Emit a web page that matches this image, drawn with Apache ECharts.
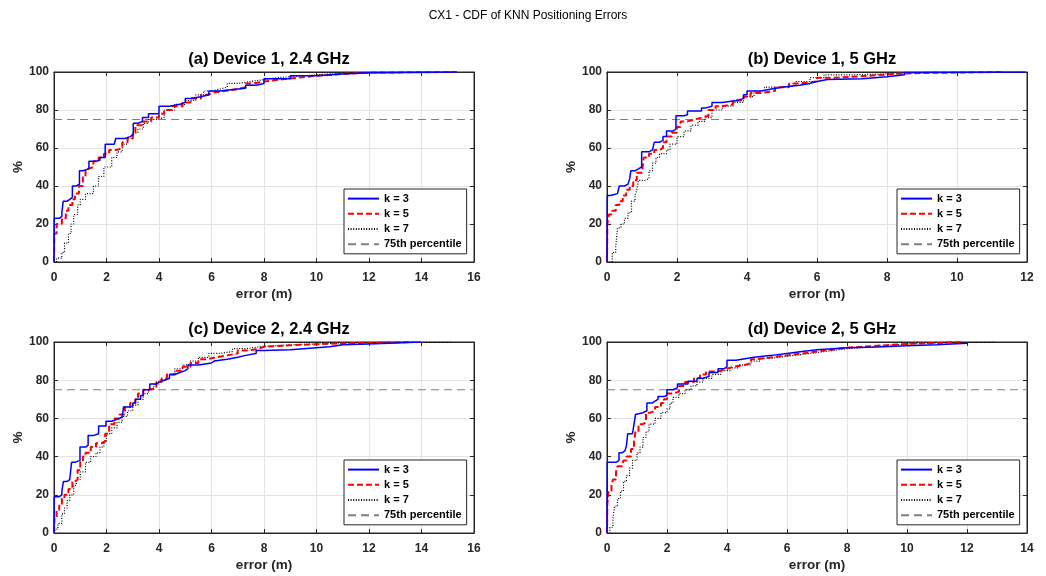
<!DOCTYPE html>
<html>
<head>
<meta charset="utf-8">
<script src="https://cdn.jsdelivr.net/npm/echarts@6/dist/echarts.min.js"></script>
<style>
html,body{margin:0;padding:0;background:#fff;}
#chart{width:1046px;height:576px;}
</style>
</head>
<body>
<div id="chart"></div>
<script>
// ---- DATA: [error (m), cumulative %] ----
var mainTitle = 'CX1 - CDF of KNN Positioning Errors';
var panelTitles = ['(a) Device 1, 2.4 GHz', '(b) Device 1, 5 GHz', '(c) Device 2, 2.4 GHz', '(d) Device 2, 5 GHz'];
var xMaxes = [16, 12, 16, 14];
var yTicks = [0, 20, 40, 60, 80, 100];
var seriesNames = ['k = 3', 'k = 5', 'k = 7', '75th percentile'];
var percentile = 75;

var a_k3 = [[0,0],[0.01,23],[0.2,24],[0.3,26],[0.35,32],[0.5,33],[0.6,34],[0.7,40],[0.85,41],[0.97,48],[1.1,49],[1.33,53],[1.6,53.5],[1.75,55],[1.95,62],[2.3,63],[2.35,65],[2.7,66],[2.9,67],[3.02,73],[3.2,74],[3.37,76],[3.6,78],[4.0,82],[4.4,83],[4.8,84],[5.0,86],[5.2,87],[5.6,88],[5.9,90],[6.3,91],[7.0,91.5],[7.3,93],[7.7,94],[8.0,96.5],[9.0,98],[10.0,99],[11.0,99.6],[12.0,100],[15.35,100]];
var a_k5 = [[0,0],[0.01,15],[0.1,20],[0.3,23],[0.45,27],[0.55,30],[0.7,33],[0.8,36],[0.95,40],[1.1,45],[1.2,49],[1.3,50],[1.5,53],[1.7,55],[1.9,57],[2.1,59],[2.4,60],[2.6,63],[2.8,65],[3.0,68],[3.1,72],[3.4,74],[3.7,76],[4.0,78],[4.2,80],[4.5,82],[4.9,84],[5.2,86],[5.6,88],[5.9,89],[6.0,90],[6.5,91],[7.0,92],[7.3,94],[7.6,95],[8.0,96],[8.6,97],[9.3,98],[10.0,99],[11.0,99.7],[12.0,100],[15.35,100]];
var a_k7 = [[0,0],[0.1,2],[0.3,5],[0.4,10],[0.55,15],[0.65,20],[0.75,25],[0.9,30],[1.0,33],[1.2,36],[1.5,40],[1.7,45],[1.9,50],[2.2,55],[2.4,58],[2.6,62],[2.8,65],[3.0,68],[3.2,70],[3.4,73],[3.6,75],[3.9,76],[4.2,80],[4.6,83],[5.0,85],[5.4,88],[5.7,90],[6.0,91],[6.3,92],[6.6,94],[7.0,95],[7.5,96],[8.0,97],[8.5,98],[9.5,99],[10.5,99.5],[11.5,100],[15.3,100]];

var b_k3 = [[0,0],[0.01,35],[0.1,36],[0.3,37],[0.35,40],[0.5,41],[0.6,42],[0.65,44],[0.68,48],[0.8,49],[0.9,50],[0.99,58],[1.2,59],[1.3,60],[1.35,63],[1.5,64],[1.6,66],[1.7,69],[1.9,70],[1.97,77],[2.2,77.5],[2.3,79.5],[2.7,81],[2.8,82],[3.0,84],[3.3,84.5],[3.5,85],[3.7,86],[3.9,88],[4.0,90],[4.4,91],[4.7,92],[5.0,93],[5.5,94],[5.8,95],[6.0,96],[6.3,96.5],[7.3,97.5],[8.0,98.5],[8.5,99.7],[9.0,100],[11.95,100]];
var b_k5 = [[0,0],[0.01,20],[0.05,25],[0.15,27],[0.25,30],[0.35,32],[0.45,35],[0.55,38],[0.65,40],[0.75,43],[0.85,47],[1.0,48],[1.05,55],[1.2,57],[1.35,59],[1.5,60],[1.6,63],[1.7,66],[1.85,68],[2.0,71],[2.1,74],[2.3,75],[2.5,76],[2.7,77],[2.9,80],[3.1,82],[3.3,83],[3.6,85],[3.9,87],[4.1,89],[4.4,90],[4.8,92],[5.2,94],[5.5,95],[6.0,97],[6.5,98],[7.5,99],[8.2,99.5],[9.0,100],[11.3,100]];
var b_k7 = [[0,0],[0.15,5],[0.25,8],[0.3,18],[0.4,20],[0.5,23],[0.6,26],[0.7,32],[0.8,35],[0.85,38],[0.9,43],[1.1,44],[1.2,48],[1.3,52],[1.4,55],[1.5,57],[1.7,59],[1.8,62],[2.0,66],[2.2,69],[2.4,72],[2.6,74],[2.8,76],[3.0,80],[3.3,82],[3.6,84],[3.9,87],[4.2,90],[4.5,92],[5.0,93],[5.4,95],[5.8,97],[6.2,98.5],[7.0,99],[8.0,100],[9.5,100]];

var c_k3 = [[0,0],[0.01,19],[0.2,20],[0.3,22],[0.36,27],[0.5,28],[0.6,29],[0.67,37],[0.8,38],[0.99,45],[1.2,46],[1.3,51],[1.5,52],[1.7,56],[1.98,58.5],[2.2,59],[2.3,60],[2.5,61],[2.6,62],[2.65,66],[2.9,66.5],[3.0,68],[3.1,70],[3.3,72],[3.4,75],[3.65,78],[3.9,79],[4.0,80],[4.2,81],[4.4,83],[4.6,84],[4.8,85],[5.0,86],[5.1,88],[5.5,89],[6.0,90],[6.1,91],[6.6,92],[7.0,93],[7.3,94],[7.7,95.5],[8.0,96],[9.0,97],[10.0,97.5],[10.5,98.5],[11.0,99],[12.0,99.5],[13.0,100],[13.97,100]];
var c_k5 = [[0,0],[0.02,8],[0.1,12],[0.2,15],[0.3,18],[0.4,20],[0.55,23],[0.7,27],[0.8,28],[0.9,33],[1.0,37],[1.1,40],[1.2,42],[1.4,45],[1.6,47],[1.8,48],[1.95,52],[2.1,57],[2.3,60],[2.5,62],[2.7,66],[2.9,68],[3.1,70],[3.2,73],[3.4,75],[3.6,76],[3.9,79],[4.1,81],[4.3,83],[4.6,85],[4.9,87],[5.2,89],[5.5,91],[5.8,92],[6.2,93],[6.6,94],[7.0,95.5],[7.4,96.5],[7.8,97.5],[8.0,98.3],[9.0,98.8],[10.0,99.3],[11.0,99.6],[12.0,99.8],[13.0,100],[13.7,100]];
var c_k7 = [[0,0],[0.05,2],[0.15,5],[0.3,10],[0.4,13],[0.5,17],[0.6,20],[0.75,25],[0.85,28],[1.0,32],[1.2,37],[1.4,40],[1.6,42],[1.75,45],[1.9,48],[2.0,52],[2.2,55],[2.4,58],[2.6,61],[2.8,64],[3.0,67],[3.2,70],[3.4,73],[3.6,75],[3.8,78],[4.0,80],[4.3,83],[4.6,86],[4.9,88],[5.2,90],[5.5,92],[5.9,94],[6.3,95],[6.8,96.5],[7.3,97.5],[7.8,98],[8.3,98.5],[9.0,99],[10.0,99.5],[11.0,100],[15.15,100]];

var d_k3 = [[0,0],[0.01,37],[0.3,37.5],[0.35,38],[0.4,42],[0.5,43],[0.6,44],[0.65,46],[0.69,52],[0.85,53],[0.9,57],[0.95,62],[1.0,63],[1.2,64],[1.33,68],[1.5,69],[1.6,70],[1.7,71.5],[1.9,72],[2.0,75],[2.2,76],[2.35,78],[2.7,79.5],[3.0,81],[3.2,82],[3.4,84],[3.7,86],[3.9,87],[4.0,90.5],[4.3,91],[4.5,92],[4.9,93],[5.5,94],[6.0,95],[6.5,96],[7.0,97],[8.0,97.4],[9.0,98],[10.0,98.5],[11.0,99.3],[12.0,100]];
var d_k5 = [[0,0],[0.01,15],[0.05,22],[0.15,25],[0.2,28],[0.3,32],[0.35,35],[0.5,36],[0.55,38],[0.65,40],[0.8,44],[0.9,48],[0.95,53],[1.05,57],[1.2,58],[1.3,63],[1.45,64],[1.6,66],[1.8,68],[1.9,70],[2.0,73],[2.2,74],[2.4,77],[2.6,79],[2.9,81],[3.1,83],[3.3,84.5],[3.6,85],[3.8,86],[4.0,87],[4.2,88],[4.6,89],[4.8,91],[5.0,92],[5.5,93],[6.0,94],[6.5,95],[7.0,96],[7.5,97],[8.0,98],[9.0,99],[10.0,99.5],[11.0,100],[11.8,100]];
var d_k7 = [[0,0],[0.1,3],[0.2,8],[0.25,14],[0.35,18],[0.45,22],[0.55,27],[0.65,30],[0.75,34],[0.85,38],[1.0,42],[1.1,45],[1.2,50],[1.3,53],[1.4,57],[1.6,60],[1.8,63],[2.0,65],[2.1,68],[2.2,71],[2.4,73],[2.6,75],[2.8,77],[3.0,79],[3.2,81],[3.5,83],[3.8,85],[4.1,86.5],[4.4,88],[4.8,90],[5.1,91.5],[5.5,92.5],[6.0,93.5],[6.5,94.5],[7.0,95.5],[7.5,96.5],[8.0,97],[8.5,98],[9.2,99],[10.0,99.5],[11.0,100],[12.93,100]];

var panelData = [[a_k3, a_k5, a_k7], [b_k3, b_k5, b_k7], [c_k3, c_k5, c_k7], [d_k3, d_k5, d_k7]];

// ---- LAYOUT / STYLE ----
var grids = [
  {left: 54, top: 72, width: 420, height: 190},
  {left: 607, top: 72, width: 420, height: 190},
  {left: 54, top: 342, width: 420, height: 191},
  {left: 607, top: 342, width: 420, height: 191}
];
var FONT = '"Liberation Sans", Arial, Helvetica, sans-serif';
var AX = '#262626';
var GRIDC = '#e3e3e3';
var lineStyles = [
  {color: '#0000ff', width: 1.5, type: 'solid'},
  {color: '#ff0000', width: 2, type: [6, 3]},
  {color: '#000000', width: 1.2, type: [1, 1.6]},
  {color: '#808080', width: 1, type: [8, 5]}
];

var option = {
  backgroundColor: '#ffffff',
  animation: false,
  title: [], grid: [], xAxis: [], yAxis: [], series: [], legend: []
};
option.title.push({text: mainTitle, left: 523, top: 5, textAlign: 'center',
  textStyle: {fontFamily: FONT, fontSize: 12, fontWeight: 'normal', color: '#000'}});

panelData.forEach(function (sets, p) {
  var g = grids[p];
  var xmax = xMaxes[p];
  option.grid.push({left: g.left, top: g.top, width: g.width, height: g.height, containLabel: false,
    show: true, borderColor: AX, borderWidth: 1, backgroundColor: '#fff'});
  option.title.push({text: panelTitles[p], left: g.left + g.width / 2, top: g.top - 26, textAlign: 'center',
    textStyle: {fontFamily: FONT, fontSize: 16.5, fontWeight: 'bold', color: '#000'}});
  var baseX = {type: 'value', gridIndex: p, min: 0, max: xmax, interval: 2};
  option.xAxis.push(Object.assign({}, baseX, {
    position: 'bottom', name: 'error (m)', nameLocation: 'middle', nameGap: 25,
    nameTextStyle: {fontFamily: FONT, fontSize: 13.5, fontWeight: 'bold', color: AX},
    axisLine: {show: true, onZero: false, lineStyle: {color: AX, width: 1}},
    axisTick: {show: true, inside: true, length: 4, lineStyle: {color: AX}},
    axisLabel: {show: true, margin: 10, fontFamily: FONT, fontSize: 12, fontWeight: 'bold', color: AX},
    splitLine: {show: true, lineStyle: {color: GRIDC, width: 1}}
  }));
  option.xAxis.push(Object.assign({}, baseX, {
    position: 'top',
    axisLine: {show: true, onZero: false, lineStyle: {color: AX, width: 1}},
    axisTick: {show: true, inside: true, length: 4, lineStyle: {color: AX}},
    axisLabel: {show: false}, splitLine: {show: false}
  }));
  var baseY = {type: 'value', gridIndex: p, min: 0, max: 100, interval: 20};
  option.yAxis.push(Object.assign({}, baseY, {
    position: 'left', name: '%', nameLocation: 'middle', nameGap: 29, nameRotate: 90,
    nameTextStyle: {fontFamily: FONT, fontSize: 13.5, fontWeight: 'bold', color: AX},
    axisLine: {show: true, onZero: false, lineStyle: {color: AX, width: 1}},
    axisTick: {show: true, inside: true, length: 4, lineStyle: {color: AX}},
    axisLabel: {show: true, margin: 5, fontFamily: FONT, fontSize: 12, fontWeight: 'bold', color: AX},
    splitLine: {show: true, lineStyle: {color: GRIDC, width: 1}}
  }));
  option.yAxis.push(Object.assign({}, baseY, {
    position: 'right',
    axisLine: {show: true, onZero: false, lineStyle: {color: AX, width: 1}},
    axisTick: {show: true, inside: true, length: 4, lineStyle: {color: AX}},
    axisLabel: {show: false}, splitLine: {show: false}
  }));
  var xi = p * 2, yi = p * 2;
  sets.forEach(function (data, s) {
    option.series.push({
      name: seriesNames[s], type: 'line', xAxisIndex: xi, yAxisIndex: yi,
      data: data, step: 'end', showSymbol: false, symbol: 'none', silent: true,
      lineStyle: lineStyles[s], itemStyle: {color: lineStyles[s].color}, z: 3 + (2 - s)
    });
  });
  option.series.push({
    name: seriesNames[3], type: 'line', xAxisIndex: xi, yAxisIndex: yi,
    data: [[0, percentile], [xmax, percentile]], showSymbol: false, symbol: 'none', silent: true,
    lineStyle: lineStyles[3], itemStyle: {color: lineStyles[3].color}, z: 2
  });
  option.legend.push({
    data: seriesNames.slice(),
    orient: 'vertical', left: g.left + g.width - 130, top: g.top + g.height - 73,
    backgroundColor: '#fff', borderColor: AX, borderWidth: 1,
    padding: [4, 5, 4, 3], itemWidth: 31, itemHeight: 14, itemGap: 4,
    selectedMode: false,
    itemStyle: {opacity: 0, borderWidth: 0, color: 'rgba(0,0,0,0)', borderColor: 'rgba(0,0,0,0)'},
    textStyle: {fontFamily: FONT, fontSize: 11, fontWeight: 'bold', color: '#000'}
  });
});

var chart = echarts.init(document.getElementById('chart'), null, {renderer: 'canvas'});
chart.setOption(option);
</script>
</body>
</html>
